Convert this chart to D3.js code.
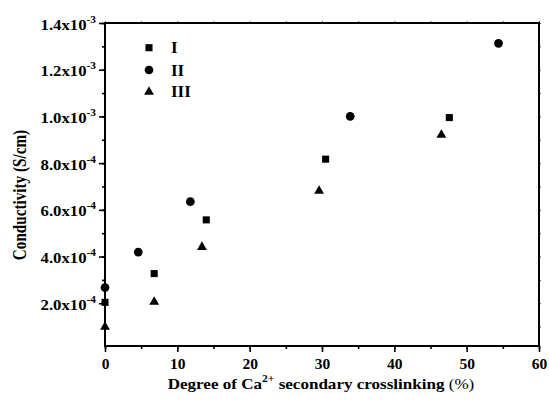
<!DOCTYPE html>
<html><head><meta charset="utf-8">
<script src="https://cdn.jsdelivr.net/npm/d3@7"></script>
<style>
body{margin:0;background:#fff;}
svg{display:block;font-family:"Liberation Serif","Times New Roman",serif;}
</style></head><body>
<svg id="c" width="549" height="403"></svg>
<script>
const seriesNames = ["I", "II", "III"];
const xI = [0, 6.8, 14.0, 30.5, 47.6];
const yI = [2.04e-4, 3.27e-4, 5.57e-4, 8.17e-4, 9.95e-4];
const xII = [0, 4.6, 11.8, 33.9, 54.4];
const yII = [2.67e-4, 4.19e-4, 6.35e-4, 1.0e-3, 1.313e-3];
const xIII = [0, 6.8, 13.4, 29.6, 46.5];
const yIII = [1.03e-4, 2.1e-4, 4.45e-4, 6.85e-4, 9.25e-4];
const xTicks = [0, 10, 20, 30, 40, 50, 60];
const yTicks = [2e-4, 4e-4, 6e-4, 8e-4, 1e-3, 1.2e-3, 1.4e-3];
const yTickMant = ["2.0", "4.0", "6.0", "8.0", "1.0", "1.2", "1.4"];
const yTickExp = ["-4", "-4", "-4", "-4", "-3", "-3", "-3"];

const svg = d3.select("#c");
const L = 105, R = 539, T = 23, B = 346;
const x = d3.scaleLinear().domain([0, 60]).range([L, R]);
const y = d3.scaleLinear().domain([1.7e-5, 1.4e-3]).range([B, T]);

const symbols = [d3.symbolSquare, d3.symbolCircle, d3.symbolTriangle];
const sizes = [50, 60, 42];
const data = [[xI, yI], [xII, yII], [xIII, yIII]];

// points
data.forEach(([xs, ys], i) => {
  svg.append("g").selectAll("path").data(xs.map((v, k) => [v, ys[k]])).join("path")
    .attr("d", d3.symbol().type(symbols[i]).size(sizes[i]))
    .attr("transform", d => `translate(${x(d[0])},${y(d[1]) + (i === 2 ? 1 : 0)})`)
    .attr("fill", "#000");
});

// axes
const minorX = d3.range(0, 61, 5);
const minorY = d3.range(1e-4, 1.41e-3, 1e-4);
function styleAxis(g) {
  g.select(".domain").remove();
  g.selectAll("line").attr("stroke", "#000").attr("stroke-width", 1.6);
}
svg.append("g").attr("transform", `translate(0,${B})`)
  .call(d3.axisBottom(x).tickValues(minorX).tickSize(3).tickFormat(""))
  .call(styleAxis);
const xa = svg.append("g").attr("transform", `translate(0,${B})`)
  .call(d3.axisBottom(x).tickValues(xTicks).tickSize(6).tickPadding(6).tickFormat(d3.format("d")))
  .call(styleAxis);
xa.selectAll("text").attr("font-size", 15.5).attr("font-weight", "bold").attr("fill", "#000")
  .attr("font-family", "Liberation Serif");

svg.append("g").attr("transform", `translate(${L},0)`)
  .call(d3.axisLeft(y).tickValues(minorY).tickSize(3).tickFormat(""))
  .call(styleAxis);
const ya = svg.append("g").attr("transform", `translate(${L},0)`)
  .call(d3.axisLeft(y).tickValues(yTicks).tickSize(6).tickPadding(3).tickFormat(""))
  .call(styleAxis);
ya.selectAll(".tick").each(function(d, i) {
  const t = d3.select(this).append("text")
    .attr("transform", "translate(-9,6) scale(1.08,1)")
    .attr("text-anchor", "end")
    .attr("font-size", 15.5).attr("font-weight", "bold").attr("fill", "#000")
    .attr("font-family", "Liberation Serif");
  t.append("tspan").text(yTickMant[i] + "x10");
  t.append("tspan").attr("font-size", 10.5).attr("dy", -7).text(yTickExp[i]);
});

// top and right tiny ticks
svg.append("g").attr("transform", `translate(0,${T})`)
  .call(d3.axisTop(x).tickValues(minorX).tickSize(2).tickFormat(""))
  .call(g => { g.select(".domain").remove(); g.selectAll("line").attr("stroke", "#555").attr("stroke-width", 1); });
svg.append("g").attr("transform", `translate(${R},0)`)
  .call(d3.axisRight(y).tickValues(minorY).tickSize(2).tickFormat(""))
  .call(g => { g.select(".domain").remove(); g.selectAll("line").attr("stroke", "#555").attr("stroke-width", 1); });

// frame
svg.append("rect").attr("x", L).attr("y", T).attr("width", R - L).attr("height", B - T)
  .attr("fill", "none").attr("stroke", "#000").attr("stroke-width", 2);

// legend
const legY = [47.7, 70, 91];
seriesNames.forEach((n, i) => {
  svg.append("path").attr("d", d3.symbol().type(symbols[i]).size(sizes[i]))
    .attr("transform", `translate(149,${legY[i] + (i === 2 ? 1 : 0)})`).attr("fill", "#000");
  svg.append("text").attr("x", 171).attr("y", legY[i] + 5.5)
    .attr("font-size", 17).attr("font-weight", "bold").attr("fill", "#000").text(n);
});

// axis titles
svg.append("text").attr("transform", "translate(26,195) scale(1.2,1) rotate(-90)")
  .attr("text-anchor", "middle").attr("font-size", 15.2).attr("font-weight", "bold")
  .text("Conductivity (S/cm)");
const xt = svg.append("text").attr("transform", "translate(321,389) scale(1.1,1)")
  .attr("text-anchor", "middle")
  .attr("font-size", 15.5).attr("font-weight", "bold");
xt.append("tspan").text("Degree of Ca");
xt.append("tspan").attr("font-size", 10.5).attr("dy", -7).text("2+");
xt.append("tspan").attr("dy", 7).text(" secondary crosslinking ");
xt.append("tspan").attr("font-weight", "normal").text("(%)");
</script>
</body></html>
